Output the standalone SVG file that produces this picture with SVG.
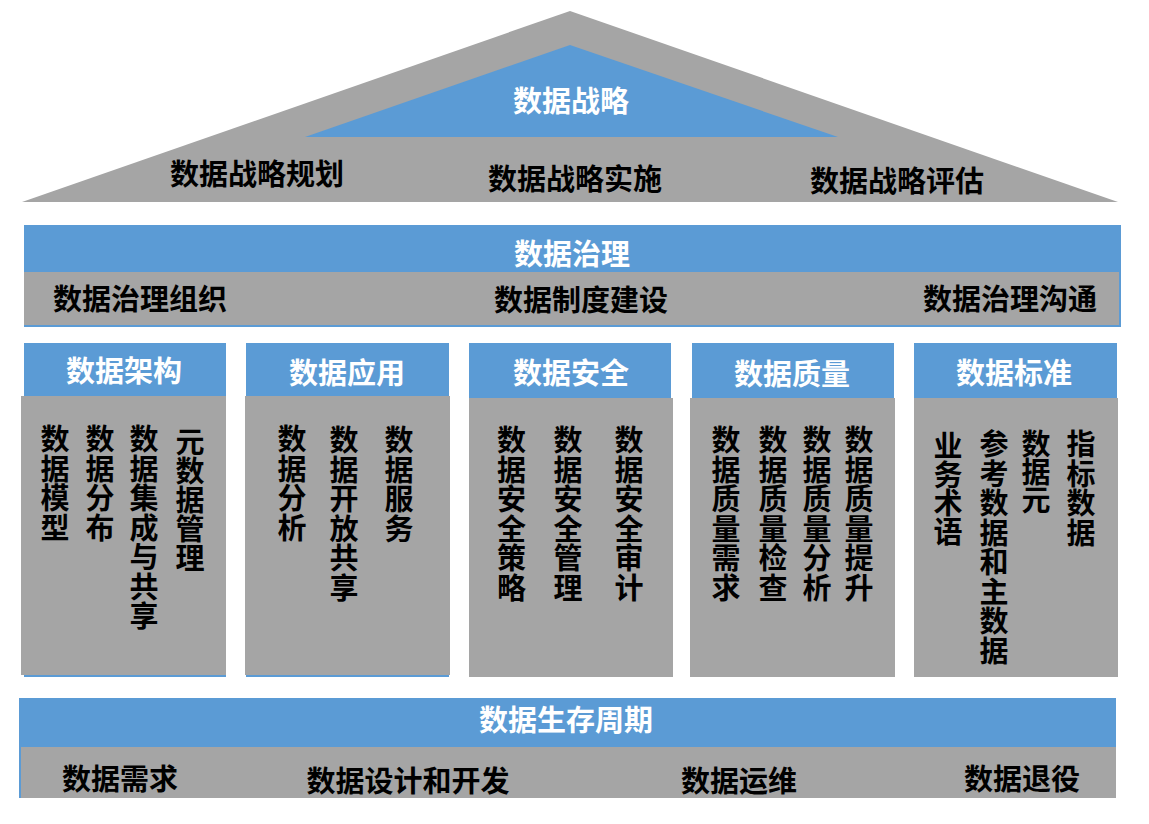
<svg xmlns="http://www.w3.org/2000/svg" width="1149" height="824" viewBox="0 0 1149 824">
<style>
.blue{fill:#5B9BD5}
.gray{fill:#A5A5A5}
text{font-family:"Noto Sans CJK SC","Noto Sans",sans-serif;font-weight:700;font-size:29px;text-anchor:middle;dominant-baseline:central}
.w{fill:#FFFFFF}
.k{fill:#000000}
</style>
<rect width="1149" height="824" fill="#FFFFFF"/>
<g id="strategy">
<polygon class="gray" points="570,11 1118,202 22,202"/>
<polygon class="blue" points="570,45 838,137 305,137"/>
<text class="w" x="571" y="99">数据战略</text>
<text class="k" x="257" y="172">数据战略规划</text>
<text class="k" x="575" y="177">数据战略实施</text>
<text class="k" x="897" y="179">数据战略评估</text>
</g>
<g id="governance">
<rect class="blue" x="24" y="225" width="1097" height="102"/>
<rect class="gray" x="24" y="272" width="1095" height="53"/>
<text class="w" x="572" y="252">数据治理</text>
<text class="k" x="140" y="297">数据治理组织</text>
<text class="k" x="581" y="298">数据制度建设</text>
<text class="k" x="1010" y="297">数据治理沟通</text>
</g>
<g id="architecture">
<rect class="blue" x="24" y="343" width="202" height="334"/>
<rect class="gray" x="21" y="396" width="205" height="279"/>
<text class="w" x="124" y="369">数据架构</text>
<text class="k"><tspan x="55" y="437">数</tspan><tspan x="55" y="466.5">据</tspan><tspan x="55" y="496">模</tspan><tspan x="55" y="525.5">型</tspan></text>
<text class="k"><tspan x="100" y="437">数</tspan><tspan x="100" y="466.5">据</tspan><tspan x="100" y="496">分</tspan><tspan x="100" y="525.5">布</tspan></text>
<text class="k"><tspan x="144" y="437">数</tspan><tspan x="144" y="466.5">据</tspan><tspan x="144" y="496">集</tspan><tspan x="144" y="525.5">成</tspan><tspan x="144" y="555">与</tspan><tspan x="144" y="584.5">共</tspan><tspan x="144" y="614">享</tspan></text>
<text class="k"><tspan x="190" y="440">元</tspan><tspan x="190" y="469">数</tspan><tspan x="190" y="498">据</tspan><tspan x="190" y="527">管</tspan><tspan x="190" y="556">理</tspan></text>
</g>
<g id="application">
<rect class="blue" x="246" y="343" width="203" height="334"/>
<rect class="gray" x="245" y="396" width="205" height="279"/>
<text class="w" x="347" y="371">数据应用</text>
<text class="k"><tspan x="292" y="437">数</tspan><tspan x="292" y="466.5">据</tspan><tspan x="292" y="496">分</tspan><tspan x="292" y="525.5">析</tspan></text>
<text class="k"><tspan x="344" y="438">数</tspan><tspan x="344" y="467.5">据</tspan><tspan x="344" y="497">开</tspan><tspan x="344" y="526.5">放</tspan><tspan x="344" y="556">共</tspan><tspan x="344" y="585.5">享</tspan></text>
<text class="k"><tspan x="399" y="438">数</tspan><tspan x="399" y="467.5">据</tspan><tspan x="399" y="497">服</tspan><tspan x="399" y="526.5">务</tspan></text>
</g>
<g id="security">
<rect class="blue" x="469" y="343" width="202" height="334"/>
<rect class="gray" x="469" y="398" width="204" height="279"/>
<text class="w" x="571" y="371">数据安全</text>
<text class="k"><tspan x="511.5" y="438">数</tspan><tspan x="511.5" y="467.5">据</tspan><tspan x="511.5" y="497">安</tspan><tspan x="511.5" y="526.5">全</tspan><tspan x="511.5" y="556">策</tspan><tspan x="511.5" y="585.5">略</tspan></text>
<text class="k"><tspan x="568" y="438">数</tspan><tspan x="568" y="467.5">据</tspan><tspan x="568" y="497">安</tspan><tspan x="568" y="526.5">全</tspan><tspan x="568" y="556">管</tspan><tspan x="568" y="585.5">理</tspan></text>
<text class="k"><tspan x="629" y="438">数</tspan><tspan x="629" y="467.5">据</tspan><tspan x="629" y="497">安</tspan><tspan x="629" y="526.5">全</tspan><tspan x="629" y="556">审</tspan><tspan x="629" y="585.5">计</tspan></text>
</g>
<g id="quality">
<rect class="blue" x="692" y="343" width="202" height="334"/>
<rect class="gray" x="690" y="398" width="205" height="279"/>
<text class="w" x="792" y="372">数据质量</text>
<text class="k"><tspan x="726" y="438">数</tspan><tspan x="726" y="467.5">据</tspan><tspan x="726" y="497">质</tspan><tspan x="726" y="526.5">量</tspan><tspan x="726" y="556">需</tspan><tspan x="726" y="585.5">求</tspan></text>
<text class="k"><tspan x="773" y="438">数</tspan><tspan x="773" y="467.5">据</tspan><tspan x="773" y="497">质</tspan><tspan x="773" y="526.5">量</tspan><tspan x="773" y="556">检</tspan><tspan x="773" y="585.5">查</tspan></text>
<text class="k"><tspan x="817" y="438">数</tspan><tspan x="817" y="467.5">据</tspan><tspan x="817" y="497">质</tspan><tspan x="817" y="526.5">量</tspan><tspan x="817" y="556">分</tspan><tspan x="817" y="585.5">析</tspan></text>
<text class="k"><tspan x="859" y="438">数</tspan><tspan x="859" y="467.5">据</tspan><tspan x="859" y="497">质</tspan><tspan x="859" y="526.5">量</tspan><tspan x="859" y="556">提</tspan><tspan x="859" y="585.5">升</tspan></text>
</g>
<g id="standards">
<rect class="blue" x="914" y="343" width="203" height="334"/>
<rect class="gray" x="914" y="398" width="204" height="279"/>
<text class="w" x="1014" y="371">数据标准</text>
<text class="k"><tspan x="948" y="444">业</tspan><tspan x="948" y="472.5">务</tspan><tspan x="948" y="501">术</tspan><tspan x="948" y="529.5">语</tspan></text>
<text class="k"><tspan x="994" y="442">参</tspan><tspan x="994" y="471.5">考</tspan><tspan x="994" y="501">数</tspan><tspan x="994" y="530.5">据</tspan><tspan x="994" y="560">和</tspan><tspan x="994" y="589.5">主</tspan><tspan x="994" y="619">数</tspan><tspan x="994" y="648.5">据</tspan></text>
<text class="k"><tspan x="1036" y="442">数</tspan><tspan x="1036" y="470">据</tspan><tspan x="1036" y="498">元</tspan></text>
<text class="k"><tspan x="1081" y="442">指</tspan><tspan x="1081" y="471.5">标</tspan><tspan x="1081" y="501">数</tspan><tspan x="1081" y="530.5">据</tspan></text>
</g>
<g id="lifecycle">
<rect class="blue" x="19" y="698" width="1097" height="100"/>
<rect class="gray" x="21" y="747" width="1095" height="51"/>
<text class="w" x="566" y="718">数据生存周期</text>
<text class="k" x="120" y="777">数据需求</text>
<text class="k" x="408" y="779">数据设计和开发</text>
<text class="k" x="739" y="779">数据运维</text>
<text class="k" x="1022" y="777">数据退役</text>
</g>
<g id="connectors"/>
</svg>
